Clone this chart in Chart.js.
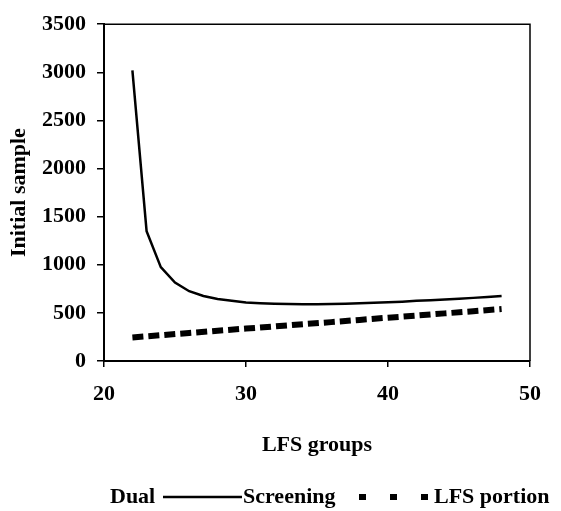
<!DOCTYPE html>
<html>
<head>
<meta charset="utf-8">
<script src="https://cdn.jsdelivr.net/npm/chart.js@4/dist/chart.umd.min.js"></script>
<style>
  body { margin: 0; background: #fff; }
  canvas { display: block; }
</style>
</head>
<body>
<canvas id="chart" width="561" height="511"></canvas>
<script>
// values
const groups = [22, 23, 24, 25, 26, 27, 28, 29, 30, 31, 32, 33, 34, 35, 36, 37, 38, 39, 40, 41, 42, 43, 44, 45, 46, 47, 48];
const dualScreening = [3020, 1350, 975, 815, 725, 675, 645, 625, 608, 600, 595, 592, 590, 590, 592, 595, 600, 605, 610, 617, 625, 632, 640, 648, 656, 664, 675];
const lfsGroups = [22, 24, 26, 28, 30, 32, 34, 36, 38, 40, 42, 44, 46, 48];
const lfsPortion = [245, 268, 291, 314, 337, 359, 382, 404, 427, 450, 472, 495, 517, 540];
const xTicks = [20, 30, 40, 50];
const yTicks = [0, 500, 1000, 1500, 2000, 2500, 3000, 3500];

const serif = "'Liberation Serif', 'Times New Roman', serif";
const font = { family: serif, size: 22, weight: 'bold' };

function pairs(xs, ys) {
    let out = [];
    for (let i = 0; i < xs.length; i++) {
        out.push({ x: xs[i], y: ys[i] });
    }
    return out;
}

// box around plot + the odd excel legend at the bottom
const extras = {
    id: 'extras',
    afterDraw(chart) {
        const ctx = chart.ctx;
        const a = chart.chartArea;
        ctx.save();
        ctx.strokeStyle = '#000';
        ctx.lineWidth = 1.5;
        ctx.beginPath();
        ctx.moveTo(a.left, a.top);
        ctx.lineTo(a.right, a.top);
        ctx.lineTo(a.right, a.bottom);
        ctx.stroke();

        ctx.font = 'bold 22px ' + serif;
        ctx.fillStyle = '#000';
        ctx.textBaseline = 'middle';
        const y = 497;
        ctx.fillText('Dual', 110, y);
        ctx.lineWidth = 2.5;
        ctx.beginPath();
        ctx.moveTo(163, y);
        ctx.lineTo(242, y);
        ctx.stroke();
        ctx.fillText('Screening', 243, y);
        for (let k = 0; k < 3; k++) {
            ctx.fillRect(359 + k * 31, y - 3, 7, 6);
        }
        ctx.fillText('LFS portion', 434, y);
        ctx.restore();
    }
};

new Chart(document.getElementById('chart'), {
    type: 'line',
    data: {
        datasets: [{
            label: 'Dual Screening',
            data: pairs(groups, dualScreening),
            borderColor: '#000',
            borderWidth: 2.5,
            pointRadius: 0,
            tension: 0,
            fill: false
        }, {
            label: 'LFS portion',
            data: pairs(lfsGroups, lfsPortion),
            borderColor: '#000',
            borderWidth: 6,
            borderDash: [11, 5],
            borderCapStyle: 'butt',
            pointRadius: 0,
            fill: false
        }]
    },
    options: {
        responsive: false,
        animation: false,
        devicePixelRatio: 1,
        layout: { padding: { left: 0, right: 31, top: 22, bottom: 50 } },
        plugins: {
            legend: { display: false },
            tooltip: { enabled: false }
        },
        scales: {
            x: {
                type: 'linear',
                min: 20,
                max: 50,
                afterBuildTicks: (s) => { s.ticks = xTicks.map(v => ({ value: v })); },
                afterFit: (s) => { s.height = 100; },
                grid: { drawOnChartArea: false, drawTicks: true, tickLength: 6, color: '#000', lineWidth: 1.5 },
                border: { display: true, color: '#000', width: 2 },
                ticks: { color: '#000', font: font, padding: 14, maxRotation: 0, callback: (v) => String(v) },
                title: { display: true, text: 'LFS groups', color: '#000', font: font, padding: { top: 0, bottom: 2 } }
            },
            y: {
                min: 0,
                max: 3500,
                afterBuildTicks: (s) => { s.ticks = yTicks.map(v => ({ value: v })); },
                afterFit: (s) => { s.width = 104; },
                grid: { drawOnChartArea: false, drawTicks: true, tickLength: 7, color: '#000', lineWidth: 1.5 },
                border: { display: true, color: '#000', width: 2 },
                ticks: { color: '#000', font: font, padding: 11, callback: (v) => String(v) },
                title: { display: true, text: 'Initial sample', color: '#000', font: font, padding: { top: 6, bottom: 0 } }
            }
        }
    },
    plugins: [extras]
});
</script>
</body>
</html>
